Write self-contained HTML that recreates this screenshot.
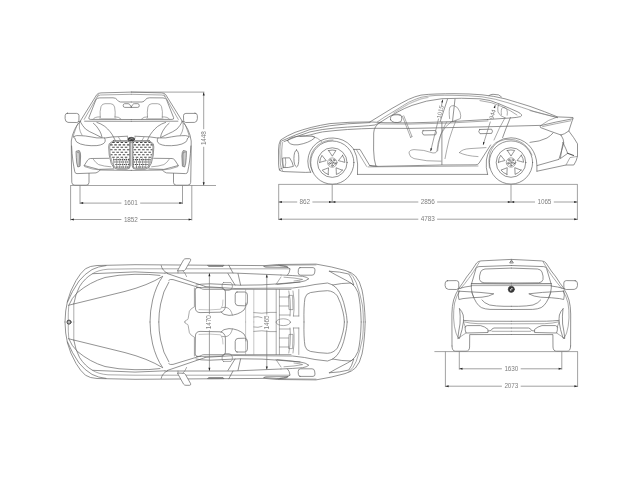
<!DOCTYPE html>
<html><head><meta charset="utf-8"><title>Vehicle dimensions</title>
<style>
html,body{margin:0;padding:0;background:#fff;}
body{width:640px;height:480px;overflow:hidden;font-family:"Liberation Sans",sans-serif;}
svg{display:block;position:absolute;left:0;top:0;}
svg *{vector-effect:none;}
.c{fill:none;stroke:#606060;stroke-width:.68;stroke-linecap:round;stroke-linejoin:round;}
.c .l2{stroke:#727272;stroke-width:.6;}
.c .l3{stroke:#8c8c8c;stroke-width:.5;}
.c .w{fill:#fff;}
.c .dk{fill:#555;stroke:#444;}
.c .g{fill:#cfcfcf;}
.dl{fill:none;stroke:#7a7a7a;stroke-width:.7;}
.gl{fill:none;stroke:#808080;stroke-width:.72;}
.ah{fill:#222;stroke:none;}
.t{filter:grayscale(1);font-family:"Liberation Sans",sans-serif;font-size:6.4px;fill:#808080;text-anchor:middle;letter-spacing:-.1px;}
</style></head>
<body>
<svg width="640" height="480" viewBox="0 0 640 480">
<rect x="0" y="0" width="640" height="480" fill="#fff"/>
<!-- FRONT VIEW -->
<g class="c"><g><path d="M131.25,92.1 L101,92.9 Q98,93 96.8,94.6 L80.6,120.6"/><path class="l2" d="M131.25,94.3 L100.5,95 Q98.6,95.2 97.6,96.6"/><path class="l2" d="M98.4,94.6 L84.2,119.4"/><path d="M131.25,102 L120.5,102 Q118.4,101.8 117,99.6 Q116,97.9 113,97.8 L99.5,97.9 Q97,98 96,99.6 L88.9,117.6 Q88.3,119.4 90.4,119.4 L131.25,119.5"/><path d="M131.25,121.3 L84.6,121.2"/><path d="M131.25,106.9 L129.8,104.6 Q129.2,103.7 128,103.7 L124.6,103.7 Q123.2,103.9 123.2,105.6 Q123.2,107.4 124.8,107.4 L131.25,107.4"/><path class="l2" d="M100.2,117.6 Q99.6,111 101,106.6 Q102,103.7 105,103.7 L110.6,103.7 Q113.8,103.8 114.6,107 Q115.6,112 115,117.4"/><path class="l2" d="M93,119.2 Q94.6,116.6 100.2,116.9 M115,116.8 Q119,116.6 121,119"/><path class="l3" d="M99.6,118.6 L116,118.6"/><path d="M67.4,113.4 L76.6,113.4 Q79,113.5 79,115.6 L78.9,120.4 Q78.9,122.4 76.8,122.5 L68,122.4 Q65.2,122 65.1,118.6 L65.2,115.4 Q65.4,113.2 67.4,113.1 Z"/><path d="M78.9,121.6 L80.8,121.1"/><path d="M80.4,121.4 Q76.6,125 74.6,129.6 Q72,135 71.3,141 L71.4,160 L71.8,182.4 Q72,185.2 74.8,185.2 L86.2,185.2 Q88.9,185.2 89,182.4 L89,173.5"/><path d="M71.6,146 Q72,154 72.9,161 Q73.8,167 74.8,171.8 Q75.2,173.7 77,173.6 L96,172.9 Q98.6,172 100.2,170 L131.25,170.4"/><path class="l2" d="M78,123.4 Q76,127 75,130.8 Q73.6,134 73.3,136.9"/><path d="M80.2,121.6 Q82.6,126 85.5,129 Q89.6,132 94.2,133.8 L101.2,137.3"/><path d="M93.4,123.3 Q96.4,125.6 97.8,128.1 Q100,131 101.2,134.2 L102,137.3"/><path d="M96.9,122.4 Q101,123.6 104.8,126.4 Q108,129 110,131.6 Q112,134 113.5,136.9 L115.2,140.4"/><path class="l2" d="M79.4,122.9 L79.4,128.1 Q80,132 82,135.1"/><path d="M113.5,136.9 L127.6,136.2"/><path d="M73.7,136.9 Q75,135.8 76.8,135.6 Q81,135.6 85.5,136 Q91,136.8 96.9,137.9 L105.6,137.9 L112.6,136.9"/><path d="M75,138.6 Q75.4,140.6 76.8,142.1 Q80,144.4 85.5,145.2 Q91,146 96.9,145.6 Q100.6,145.2 103,143.9 Q104.8,142.8 105.2,141.2 Q105.4,139.4 104.6,138"/><path class="l2" d="M73.7,136.9 Q73.8,138 75,138.6"/><path class="l2" d="M118.6,137.3 L120.6,140.6 M127.4,136.9 L128,139.6"/><path d="M113.4,140.6 L129.2,140.6 Q130.3,140.6 130.3,142 L130.3,165.6 Q130.2,169.2 126.6,169.2 L117.4,169.2 Q113.4,169 111.2,163.4 Q108.5,155 108.7,147 L109.2,143.8 L113.4,140.6 Z"/><path class="l2" d="M113.7,141.5 L128.8,141.5 Q129.5,141.6 129.5,142.6 L129.5,165.4 Q129.4,168.3 126.4,168.3 L117.8,168.3 Q114.2,168 112.2,163 Q109.5,155 109.7,147 L110.1,144.3 L113.7,141.5 Z"/><path d="M108.9,158.3 L90.4,158.5 Q88.6,158.8 87.6,160.2 L84.2,165.5 Q91,167.4 98.6,169.4 L113.6,168.9"/><path class="l2" d="M93.4,159.4 Q95.6,162.8 98.6,164.6 Q104,166.4 110.9,166.8"/><path class="l2" d="M84.2,165.5 L84.6,166.6 Q92,169.6 100.2,170"/><path class="g" d="M76.4,151.2 L79.2,150.5 Q80.6,152 80.6,156 L80.1,166.2 L77.8,167 Q76.5,164 76.3,158 Z"/><path class="l2" d="M77.4,152.4 L78.9,152 Q79.6,154 79.5,157 L79.2,165.2"/></g><g transform="translate(262.5,0) scale(-1,1)"><path d="M131.25,92.1 L101,92.9 Q98,93 96.8,94.6 L80.6,120.6"/><path class="l2" d="M131.25,94.3 L100.5,95 Q98.6,95.2 97.6,96.6"/><path class="l2" d="M98.4,94.6 L84.2,119.4"/><path d="M131.25,102 L120.5,102 Q118.4,101.8 117,99.6 Q116,97.9 113,97.8 L99.5,97.9 Q97,98 96,99.6 L88.9,117.6 Q88.3,119.4 90.4,119.4 L131.25,119.5"/><path d="M131.25,121.3 L84.6,121.2"/><path d="M131.25,106.9 L129.8,104.6 Q129.2,103.7 128,103.7 L124.6,103.7 Q123.2,103.9 123.2,105.6 Q123.2,107.4 124.8,107.4 L131.25,107.4"/><path class="l2" d="M100.2,117.6 Q99.6,111 101,106.6 Q102,103.7 105,103.7 L110.6,103.7 Q113.8,103.8 114.6,107 Q115.6,112 115,117.4"/><path class="l2" d="M93,119.2 Q94.6,116.6 100.2,116.9 M115,116.8 Q119,116.6 121,119"/><path class="l3" d="M99.6,118.6 L116,118.6"/><path d="M67.4,113.4 L76.6,113.4 Q79,113.5 79,115.6 L78.9,120.4 Q78.9,122.4 76.8,122.5 L68,122.4 Q65.2,122 65.1,118.6 L65.2,115.4 Q65.4,113.2 67.4,113.1 Z"/><path d="M78.9,121.6 L80.8,121.1"/><path d="M80.4,121.4 Q76.6,125 74.6,129.6 Q72,135 71.3,141 L71.4,160 L71.8,182.4 Q72,185.2 74.8,185.2 L86.2,185.2 Q88.9,185.2 89,182.4 L89,173.5"/><path d="M71.6,146 Q72,154 72.9,161 Q73.8,167 74.8,171.8 Q75.2,173.7 77,173.6 L96,172.9 Q98.6,172 100.2,170 L131.25,170.4"/><path class="l2" d="M78,123.4 Q76,127 75,130.8 Q73.6,134 73.3,136.9"/><path d="M80.2,121.6 Q82.6,126 85.5,129 Q89.6,132 94.2,133.8 L101.2,137.3"/><path d="M93.4,123.3 Q96.4,125.6 97.8,128.1 Q100,131 101.2,134.2 L102,137.3"/><path d="M96.9,122.4 Q101,123.6 104.8,126.4 Q108,129 110,131.6 Q112,134 113.5,136.9 L115.2,140.4"/><path class="l2" d="M79.4,122.9 L79.4,128.1 Q80,132 82,135.1"/><path d="M113.5,136.9 L127.6,136.2"/><path d="M73.7,136.9 Q75,135.8 76.8,135.6 Q81,135.6 85.5,136 Q91,136.8 96.9,137.9 L105.6,137.9 L112.6,136.9"/><path d="M75,138.6 Q75.4,140.6 76.8,142.1 Q80,144.4 85.5,145.2 Q91,146 96.9,145.6 Q100.6,145.2 103,143.9 Q104.8,142.8 105.2,141.2 Q105.4,139.4 104.6,138"/><path class="l2" d="M73.7,136.9 Q73.8,138 75,138.6"/><path class="l2" d="M118.6,137.3 L120.6,140.6 M127.4,136.9 L128,139.6"/><path d="M113.4,140.6 L129.2,140.6 Q130.3,140.6 130.3,142 L130.3,165.6 Q130.2,169.2 126.6,169.2 L117.4,169.2 Q113.4,169 111.2,163.4 Q108.5,155 108.7,147 L109.2,143.8 L113.4,140.6 Z"/><path class="l2" d="M113.7,141.5 L128.8,141.5 Q129.5,141.6 129.5,142.6 L129.5,165.4 Q129.4,168.3 126.4,168.3 L117.8,168.3 Q114.2,168 112.2,163 Q109.5,155 109.7,147 L110.1,144.3 L113.7,141.5 Z"/><path d="M108.9,158.3 L90.4,158.5 Q88.6,158.8 87.6,160.2 L84.2,165.5 Q91,167.4 98.6,169.4 L113.6,168.9"/><path class="l2" d="M93.4,159.4 Q95.6,162.8 98.6,164.6 Q104,166.4 110.9,166.8"/><path class="l2" d="M84.2,165.5 L84.6,166.6 Q92,169.6 100.2,170"/><path class="g" d="M76.4,151.2 L79.2,150.5 Q80.6,152 80.6,156 L80.1,166.2 L77.8,167 Q76.5,164 76.3,158 Z"/><path class="l2" d="M77.4,152.4 L78.9,152 Q79.6,154 79.5,157 L79.2,165.2"/></g><path d="M112.2,142.4 H114.7 M116.4,142.4 H118.9 M120.6,142.4 H123.1 M124.8,142.4 H127.3 M110.15,144.86 H112.6 M114.3,144.86 H116.8 M118.5,144.86 H121 M122.7,144.86 H125.2 M126.9,144.86 H129.4 M112.2,147.32 H114.7 M116.4,147.32 H118.9 M120.6,147.32 H123.1 M124.8,147.32 H127.3 M110.22,149.78 H112.6 M114.3,149.78 H116.8 M118.5,149.78 H121 M122.7,149.78 H125.2 M126.9,149.78 H129.4 M112.2,152.24 H114.7 M116.4,152.24 H118.9 M120.6,152.24 H123.1 M124.8,152.24 H127.3 M110.68,154.7 H112.6 M114.3,154.7 H116.8 M118.5,154.7 H121 M122.7,154.7 H125.2 M126.9,154.7 H129.4 M112.2,157.16 H114.7 M116.4,157.16 H118.9 M120.6,157.16 H123.1 M124.8,157.16 H127.3 M113.25,159.62 H114.6 M115.35,159.62 H116.7 M117.45,159.62 H118.8 M119.55,159.62 H120.9 M121.65,159.62 H123 M123.75,159.62 H125.1 M125.85,159.62 H127.2 M127.95,159.62 H129.3 M114.3,162.08 H115.65 M116.4,162.08 H117.75 M118.5,162.08 H119.85 M120.6,162.08 H121.95 M122.7,162.08 H124.05 M124.8,162.08 H126.15 M126.9,162.08 H128.25 M115.35,164.54 H116.7 M117.45,164.54 H118.8 M119.55,164.54 H120.9 M121.65,164.54 H123 M123.75,164.54 H125.1 M125.85,164.54 H127.2 M127.95,164.54 H129.3 M116.4,167 H117.75 M118.5,167 H119.85 M120.6,167 H121.95 M122.7,167 H124.05 M124.8,167 H126.15 M126.9,167 H128.2 M133.1,142.4 H134.1 M135.8,142.4 H138.3 M140,142.4 H142.5 M144.2,142.4 H146.7 M148.4,142.4 H150.46 M133.7,144.86 H136.2 M137.9,144.86 H140.4 M142.1,144.86 H144.6 M146.3,144.86 H148.8 M150.5,144.86 H152.45 M133.1,147.32 H134.1 M135.8,147.32 H138.3 M140,147.32 H142.5 M144.2,147.32 H146.7 M148.4,147.32 H150.9 M133.7,149.78 H136.2 M137.9,149.78 H140.4 M142.1,149.78 H144.6 M146.3,149.78 H148.8 M150.5,149.78 H152.38 M133.1,152.24 H134.1 M135.8,152.24 H138.3 M140,152.24 H142.5 M144.2,152.24 H146.7 M148.4,152.24 H150.9 M133.7,154.7 H136.2 M137.9,154.7 H140.4 M142.1,154.7 H144.6 M146.3,154.7 H148.8 M150.5,154.7 H151.92 M133.1,157.16 H134.1 M135.8,157.16 H138.3 M140,157.16 H142.5 M144.2,157.16 H146.7 M148.4,157.16 H150.9 M133.1,159.62 H134 M134.75,159.62 H136.1 M136.85,159.62 H138.2 M138.95,159.62 H140.3 M141.05,159.62 H142.4 M143.15,159.62 H144.5 M145.25,159.62 H146.6 M147.35,159.62 H148.7 M149.45,159.62 H150.5 M133.7,162.08 H135.05 M135.8,162.08 H137.15 M137.9,162.08 H139.25 M140,162.08 H141.35 M142.1,162.08 H143.45 M144.2,162.08 H145.55 M146.3,162.08 H147.65 M148.4,162.08 H149.49 M133.27,164.54 H134 M134.75,164.54 H136.1 M136.85,164.54 H138.2 M138.95,164.54 H140.3 M141.05,164.54 H142.4 M143.15,164.54 H144.5 M145.25,164.54 H146.6 M147.35,164.54 H148.28 M135.8,167 H137.15 M137.9,167 H139.25 M140,167 H141.35 M142.1,167 H143.45 M144.2,167 H145.55" style="stroke:#484848;stroke-width:1.05;stroke-linecap:butt"/><path class="l2" d="M113.6,158.6 V167.8 M116.7,158.6 V167.8 M119.8,158.6 V167.8 M122.9,158.6 V167.8 M126,158.6 V167.8 M129.1,158.6 V167.8 M148.9,158.6 V167.8 M145.8,158.6 V167.8 M142.7,158.6 V167.8 M139.6,158.6 V167.8 M136.5,158.6 V167.8 M133.4,158.6 V167.8"/><ellipse cx="131.25" cy="139.2" rx="3.3" ry="1.9" style="fill:#3a3a3a;stroke:#444"/><path d="M129.4,139.6 Q131,137.9 133.2,138.9" style="stroke:#ddd;stroke-width:.6"/><path class="l2" d="M128.4,141.4 L131.25,142.6 L134.1,141.4"/></g><path class="gl" d="M70.3,185.5 H216"/><path class="dl" d="M70.6,185.5 V220.4 M80,185.5 V204 M182.5,185.5 V204 M191.8,185.5 V220.4"/><path class="dl" d="M80,203.1 H121.4 M140.2,203.1 H182.5"/><polygon class="ah" points="80,203.1 83.2,202.1 83.2,204.1"/><polygon class="ah" points="182.5,203.1 179.3,202.1 179.3,204.1"/><text class="t" x="130.8" y="205.3">1601</text><path class="dl" d="M70.6,219.5 H121.4 M140.2,219.5 H191.8"/><polygon class="ah" points="70.6,219.5 73.8,218.5 73.8,220.5"/><polygon class="ah" points="191.8,219.5 188.6,218.5 188.6,220.5"/><text class="t" x="130.8" y="221.7">1852</text><path class="dl" d="M131,92.1 H204.4 M203.7,92.4 V129.2 M203.7,146.8 V185"/><polygon class="ah" points="203.7,92.2 202.7,95.4 204.7,95.4"/><polygon class="ah" points="203.7,185.4 202.7,182.2 204.7,182.2"/><text class="t" transform="translate(205.8,138.2) rotate(-90)">1448</text>
<!-- SIDE VIEW -->
<g class="c"><path d="M279.6,170.2 Q278.6,168 278.6,164 L278.5,150 Q278.6,143.6 280.6,140 Q287,135.6 295,132.4 Q310,126.8 330,123.6 Q350,121.8 370,121.9 L392,108.4 Q402,102.6 408.5,99.4 Q415,96.4 421,95.1 Q428,94.2 436,94 Q446,93.7 454,93.7 Q470,93.7 482,94.8 Q494,96 505,98.8 Q518,102.6 530,106.4 Q545,111.6 557.5,116.9 L573,117.5 Q573.6,118.4 572.4,120 L568.8,131 Q574,137.6 577.5,143.8 L577.5,156.2 Q576.6,161 573.8,165 L566,165 L537,171.2"/><path d="M281.6,141 Q296,134.4 310,129.5 Q330,125 347.5,123.8 L370,122.6"/><path d="M284,141.6 Q297,136 310,131.9 Q322,129.2 335,128 Q348,127 360,126.3 Q370,125.7 375,125 L380,122.6"/><path class="l2" d="M280.8,141.6 Q279.8,146 279.9,152 L280.4,164 Q280.8,168 282.4,170.4"/><path class="l2" d="M282.4,142.6 Q281.4,150 281.8,158 Q282.2,164 283.4,167.4"/><path d="M287.6,140.6 Q290,136.6 300,136.2 L312,136.2 Q315.4,136.4 314.6,138 Q309,143 298,144.8 Q289,145.6 287.6,140.6 Z"/><path class="l2" d="M312,136.2 Q318,137.6 321.6,141.4"/><path d="M283,158 L289.6,157.8 Q292.6,162 293.4,166.4 Q288,168 283.6,167.6 Z"/><path class="l2" d="M285.4,158 Q286.4,163 285,167.6"/><path d="M296.4,150 Q298.8,150.4 298.8,158 Q298.8,166.4 296.6,167 Q294,166 293.9,158.6 Q294,151 296.4,150 Z"/><path d="M279.6,170.2 Q281,171.4 284,171.6 L300,172.2 Q306,172.6 310.6,172.2"/><path class="l2" d="M279.2,169.4 L283.6,167.6"/><path d="M310.6,172.4 Q307.6,167 307.8,161 Q308.4,150 316.4,143.4 Q323.6,137.8 333,138 Q344,138.4 351,146 Q353.4,148.8 354,149.6"/><path class="l2" d="M312.6,172 Q309.8,166 310,161 Q310.6,151.4 317.6,145.2 Q324.4,139.8 333,140"/><path d="M353.8,149.4 L360,149.4 L369.6,165.4 L377,166.2"/><path d="M353.8,149.4 Q357.4,156 357.6,164 L357.5,174.4"/><path class="l2" d="M356.4,149.6 L366.6,166.4"/><path d="M357.5,174.4 H487.6"/><path d="M369.6,165.6 Q372,166.6 377,166.4 L441,165 L476,164.8 Q478,164.6 479,163.2 L490.6,145"/><path class="l2" d="M368,166.9 L478,166"/><path d="M380,122.6 Q374,126 373.7,133 L373.6,150 Q373.8,160 375.8,165.8"/><path d="M370,121.9 L385,122.7 L410,122.9 L450,121.7 L487.5,119.5"/><path class="l2" d="M380,124 L410,124.1 L450,123 L488,120.9"/><path d="M380,122.5 Q398,110.6 412,105.4 Q426,100.2 442,98.7 Q462,97.8 480,98.8 Q491,99.8 499,103.8 Q510,108.4 518,112 Q523.6,115 520.6,116.6 Q517,117.6 510,118 L487.5,119.5"/><path class="l2" d="M377.4,121.9 L384,117.4 L396,110 Q403,105.6 408.5,102.3 Q415,99.2 421,97.3 Q428,95.9 436,95.4 Q445,95.2 452,95.3 Q470,95.5 482,96.8 Q496,98.8 508,102.8 Q522,107.4 534,111.4 L557.5,117.6"/><path d="M394,112.8 Q402,107.8 408.5,104 Q415,101 421,98.8 L428,97.4" style="stroke:#c4c4c4;stroke-width:1.3"/><path class="l2" d="M480,100.6 Q492,101.8 502,106.6 Q511,110.6 517,115"/><path d="M489,95.5 Q491,94.3 493,94.3 L498.6,94.9 L501.4,96.9"/><path class="l2" d="M530,110.6 Q545,114.6 557.5,117.6"/><path d="M447.5,99.2 L440.2,121.6 M455,99.2 L452.5,121.4"/><path d="M441.9,122 L441.9,164.6"/><path d="M510.4,117.6 Q506,128 502.6,137.6"/><path class="l2" d="M498.8,103.9 Q497,108 498,112 Q500,116.6 505,117.8"/><path class="l2" d="M501.4,114.8 Q500.6,109 502.6,107.6 Q505.6,106.8 506.8,109.4 Q507.8,112 507.2,115.2"/><path d="M390.6,119.8 Q389.6,116 393.6,114.9 Q398.6,114.2 401.4,115.8 Q402.4,119 401,121.6 Q398,123 394.6,122.4 Q391.4,122 390.6,119.8 Z"/><path class="l2" d="M392,115.4 Q396,112.8 400.4,114.6"/><path class="l2" d="M402.4,116.2 L410.6,137.4 M403.8,115.8 L412,136.6 M410.6,137.4 L412,136.6"/><path d="M300,136.3 Q306,135.8 310,135 Q316,133.2 322.5,131.9 Q335,130.4 347.5,129.5 Q362,128.6 375,128.3 L410,128.4 L450,127.6 L490,126.7 L540,125.4"/><path d="M423,130.7 L435.6,130.5 Q437.4,132.6 435.6,134.8 L423.6,135 Q421,133 423,130.7 Z"/><path d="M479.6,129.5 L491.6,129.2 Q493.4,131.2 491.6,133.4 L480,133.7 Q477.6,131.8 479.6,129.5 Z"/><path class="l2" d="M449.6,118.6 Q448.6,110 450,107 Q451.4,105.4 454,105.6 Q458,106.6 460,112 Q461.2,116 460.4,118.6 Q455,120.6 451,122"/><path class="l2" d="M451,122 Q445,126 441,134 Q437.6,142 437,150.6 Q436.4,153.6 433,153 Q424,149.6 414,149.6 Q409,150 409,153 Q409.6,157.4 414,158.6 Q426,161.6 441,161.2"/><path class="l2" d="M456,120.4 Q452,130 449,140 Q446.6,150 445,158.6"/><path class="l2" d="M446.6,122 Q443,128 440.4,136 Q438,145 437.6,151"/><path class="l2" d="M505,117.8 Q499,128 494,140 M459.4,152.6 Q462,149 470,148.6 L486,147.6 M459.4,152.6 Q466,156 478,156.6"/><path d="M487.6,174.4 Q485.6,168 486.4,160 Q488,149 496,142.6 Q503,137.6 511,137.8 Q521,138 528.6,145 Q534.6,151 536.4,160 Q537.2,165 536.9,171.2"/><path class="l2" d="M489.4,168 Q488,160 490,153 Q493,145 499,141.4 Q505,138.6 511,139.4 Q520,140 526,146 Q530,150 532,155"/><path d="M530,142.4 Q540,141.6 547,138 Q551,135.6 553,133"/><path d="M537,165.6 L558.8,159.4"/><path d="M561,135 Q564,139.6 563.8,143 Q562,150 559,159 M568.8,131 Q564,134.6 561,135"/><path d="M563,142.6 Q566.6,150 567.6,153.4 Q564,156 560.4,158.6 Q561.4,150 563,142.6 Z"/><path d="M567.6,153.2 L573.6,155.4" style="stroke-width:1.1;stroke:#555"/><path class="l2" d="M566,165 L570,157.6 L577.4,156.4"/><path d="M540.6,125.6 Q555,122 572.6,118.8 M540.6,125.6 Q539.6,126.6 540.6,127.6 Q551,131.6 561,135"/><path class="l2" d="M542.6,126.6 Q556,123.6 570.6,120.8 M557.5,116.9 Q548,119.6 540.6,125.6"/><circle cx="332.3" cy="162.6" r="21.6"/><circle cx="332.3" cy="162.6" r="14.8"/><circle cx="332.3" cy="162.6" r="4.7" class="l2"/><circle cx="332.3" cy="162.6" r="1.0"/><circle cx="334" cy="160.25" r="0.9"/><circle cx="335.06" cy="163.5" r="0.9"/><circle cx="332.3" cy="165.5" r="0.9"/><circle cx="329.54" cy="163.5" r="0.9"/><circle cx="330.6" cy="160.25" r="0.9"/><path d="M328.62,150.55 Q332.3,149.5 335.98,150.55 Q334.11,153.27 332.3,156.2 Q330.49,153.27 328.62,150.55 Z"/><path d="M342.62,155.37 Q344.76,158.55 344.9,162.38 Q341.73,161.44 338.39,160.62 Q340.61,157.99 342.62,155.37 Z"/><path d="M342.36,170.18 Q340,173.2 336.4,174.51 Q336.31,171.21 336.06,167.78 Q339.25,169.08 342.36,170.18 Z"/><path d="M328.2,174.51 Q324.6,173.2 322.24,170.18 Q325.35,169.08 328.54,167.78 Q328.29,171.21 328.2,174.51 Z"/><path d="M319.7,162.38 Q319.84,158.55 321.98,155.37 Q323.99,157.99 326.21,160.62 Q322.87,161.44 319.7,162.38 Z"/><circle cx="511" cy="162.5" r="21.6"/><circle cx="511" cy="162.5" r="14.8"/><circle cx="511" cy="162.5" r="4.7" class="l2"/><circle cx="511" cy="162.5" r="1.0"/><circle cx="512.7" cy="160.15" r="0.9"/><circle cx="513.76" cy="163.4" r="0.9"/><circle cx="511" cy="165.4" r="0.9"/><circle cx="508.24" cy="163.4" r="0.9"/><circle cx="509.3" cy="160.15" r="0.9"/><path d="M507.32,150.45 Q511,149.4 514.68,150.45 Q512.81,153.17 511,156.1 Q509.19,153.17 507.32,150.45 Z"/><path d="M521.32,155.27 Q523.46,158.45 523.6,162.28 Q520.43,161.34 517.09,160.52 Q519.31,157.89 521.32,155.27 Z"/><path d="M521.06,170.08 Q518.7,173.1 515.1,174.41 Q515.01,171.11 514.76,167.68 Q517.95,168.98 521.06,170.08 Z"/><path d="M506.9,174.41 Q503.3,173.1 500.94,170.08 Q504.05,168.98 507.24,167.68 Q506.99,171.11 506.9,174.41 Z"/><path d="M498.4,162.28 Q498.54,158.45 500.68,155.27 Q502.69,157.89 504.91,160.52 Q501.57,161.34 498.4,162.28 Z"/></g><path class="gl" d="M278.4,184.4 H577.6"/><path class="dl" d="M278.7,184.4 V220 M332.2,184.4 V203 M511,184.4 V203 M577.4,184.4 V220"/><path class="dl" d="M278.7,202 H297.2 M312.4,202 H332.2"/><polygon class="ah" points="278.7,202 281.9,201 281.9,203"/><polygon class="ah" points="332.2,202 329,201 329,203"/><text class="t" x="304.8" y="204.2">862</text><path class="dl" d="M332.2,202 H418.3 M437.1,202 H511"/><polygon class="ah" points="332.2,202 335.4,201 335.4,203"/><polygon class="ah" points="511,202 507.8,201 507.8,203"/><text class="t" x="427.7" y="204.2">2856</text><path class="dl" d="M511,202 H535 M553.8,202 H577.4"/><polygon class="ah" points="511,202 514.2,201 514.2,203"/><polygon class="ah" points="577.4,202 574.2,201 574.2,203"/><text class="t" x="544.4" y="204.2">1065</text><path class="dl" d="M278.7,219.2 H418.3 M437.1,219.2 H577.4"/><polygon class="ah" points="278.7,219.2 281.9,218.2 281.9,220.2"/><polygon class="ah" points="577.4,219.2 574.2,218.2 574.2,220.2"/><text class="t" x="427.7" y="221.4">4783</text><path class="dl" d="M442.7,99.6 L441.4,106 M438.6,118.6 L430.7,151"/><polygon class="ah" points="442.8,99.4 442.9,102.6 441.2,102.2"/><polygon class="ah" points="430.6,151.4 430.5,148.2 432.2,148.6"/><text class="t" style="font-size:6.2px" transform="translate(442.2,112.4) rotate(-77)">1015</text><path class="dl" d="M495.2,105.2 L494.4,108 M490.4,121.6 L483.2,144.6"/><polygon class="ah" points="495.3,105 495.2,108.2 493.6,107.7"/><polygon class="ah" points="483,145.2 483.1,142 484.7,142.5"/><text class="t" style="font-size:6.2px" transform="translate(494.6,115) rotate(-73)">944</text>
<!-- TOP VIEW -->
<g class="c"><g><path d="M65,322 L65.7,311 L67.5,301 Q70,291 76,280.6 Q80.4,273 85.4,268.8 Q90,265.8 97,265.5 L135,264.7 L205,265.2 L265,265.6 L277.5,264.5 L316,264.1 Q332,266.6 345,270.4 Q352,272.4 355.4,276 Q360,281 362,290 Q364.6,302 365.2,322"/><path class="l2" d="M68.2,322 Q68.1,312 68.8,305.4 M73.8,322 L73.8,303.8"/><path d="M67.5,302 Q72,291 79,281 Q85,273.6 92,269.6 Q98,266.4 106,265.6"/><path d="M73.8,303.8 Q75.4,294 79.6,286.4 Q85,278 92.5,273.7 L135,271.9 L165,273.2"/><path d="M68.8,305.2 Q71.6,298 77.5,292.5 Q90,282 105,277.5 Q118,274.6 135,274.3 Q150,274 160,275.4"/><path class="l2" d="M92.5,273.7 Q98,270 108,269.2 L135,268.8 L290,268.8"/><path d="M68.8,305.2 L125,291.4 Q148,285.4 162.5,276.4"/><path d="M165,273 L233,273 L281,275"/><path class="w" d="M177.6,270.6 L183.6,259.8 Q184.4,258.7 186,258.7 L189.6,258.7 Q191.2,258.9 190.6,260.4 L185.4,269.6 Q184.8,270.6 183.6,270.7 Z"/><path class="l2" d="M178,270.8 L178,273 M183,270.8 Q185,272.6 186.6,276.6"/><path d="M162.5,276.6 Q156,286 152.6,300 Q150,311 150,322"/><path d="M168.8,282.2 Q163,291 160.6,304 Q158.8,313 158.8,322"/><path d="M161.2,265.6 Q162,270.6 167.5,273.2 M167.5,273.6 L205,286.4 M168.8,280.2 Q170,279 173,279.6 L200.6,288"/><path d="M196,285 Q200,283.9 210,283.8 L240,285.2 L262,284.9 Q285,283.4 300,282"/><path d="M205,286.6 L235,288.5 L292.5,288 Q305,286.8 315,284.5 L327.5,283 Q333,284 337,288.6 Q342.6,296 345,308 Q347,316 347.2,322"/><path class="l2" d="M200.6,288 Q201,289.4 204,289.5 L291,289.5"/><path d="M208,265.4 L224,265.4 L223,266.5 L209,266.5 Z"/><path d="M264,266.3 L278,265.4 L286,266 L288,267.4 L266,267.2 Z"/><path class="l2" d="M277.5,265.3 L316,264.9"/><path d="M228.8,265.2 L233,273 M228,273.6 L235,285 M238,273.6 L240.6,285"/><path d="M280,265.6 Q288,266.4 290,269 Q289.6,273 287.4,275.2"/><path d="M281,275 Q293,275.4 302.5,276.3 Q307,277 308.8,278.8 Q306,281.2 300,282 Q288,283.4 277,284.4"/><path class="l2" d="M281,277 L276,284.4 M284,277.2 Q295,277.8 302.6,279.4 Q299,280.6 294,281"/><path d="M300,267.6 L313,267.6 Q315.2,267.8 315,270 L314.6,273 Q314.2,275.2 312,275.2 L300.6,275.2 Q298,275 298.2,272.4 L298.4,269.6 Q298.6,267.6 300,267.6 Z"/><path d="M304,322 Q303.6,306 305,298 Q306,293.6 310.4,292.6 Q319,291 327.5,290.7 Q333.6,291 337.4,296 Q341,303 343,312 Q344.2,317 344.4,322"/><path d="M332.5,285 Q342,283 351,283 Q355.6,286 358,292.6 Q360.6,302 361.2,322"/><path class="l2" d="M348.8,272 Q353.6,276 356.2,282.6 Q360.4,294 362.6,306 Q363.4,314 363.4,322"/><path d="M329.4,271.2 Q340,271.6 348.8,274 Q352,278 353.8,285 Q348,281 341,277.6 Q335,274.6 329.4,271.2 Z"/><path class="l2" d="M194.4,288 L194.4,306.8 Q190.4,308.8 189.4,311.2 L188.2,318.4 Q188,319.8 186.4,320.2 Q184.7,320.6 184.7,322"/><path d="M197,287.6 L221,288 Q225.4,288.4 225.4,292 L225.4,306 Q225,311.6 220,312.2 L200,312.6 Q195.6,312.4 195.4,308 L195.2,290 Q195.4,287.6 197,287.6 Z"/><path class="l3" d="M199,309.6 Q210,310.4 220.6,309.2 Q223.4,306 223,300"/><path class="l2" d="M223.4,282.6 L231,282.6 Q232.8,284 232.4,287 Q231.8,290 229,290.4 L224.6,290.4 Q222,289 222,286 Q222,283.4 223.4,282.6 Z"/><path d="M221,312.2 Q223,315 229,315.4 Q238,315.2 244,310 Q246.4,307 246,303"/><path class="l2" d="M222,307.6 Q224.6,307 227,307.6 Q231,309 232.4,315"/><path d="M237,292 L245,292 Q247.4,292.4 247.4,295 L247.4,303 Q247.2,305.6 244.6,305.8 L238,305.6 Q235.4,305.4 235.2,302.6 L235.2,294.6 Q235.2,292 237,292 Z"/><path class="l3" d="M245.6,289.5 V322 M253.8,289.5 V322"/><path class="l2" d="M276.2,289.5 V322 M279.4,289.5 V322 M298.8,289.5 L298.8,316"/><path class="l2" d="M253.8,312.6 Q262,314 270,312.4 L276.2,312.4 M253.8,317 Q258,316 262,317.6"/><path class="l2" d="M279.4,297 H288.6 M279.4,306 H288.6 M279.4,315 H290"/><path class="l2" d="M288.8,291 Q290.6,300 290.4,309 L290,316 M293,291 Q294.6,300 294,310 L293.4,316"/><path class="l2" d="M289,295.4 L292.6,295.4 L293,309.6 L289.4,309.6 Z"/><path class="l2" d="M298.8,316 L293.4,316"/></g><g transform="translate(0,644) scale(1,-1)"><path d="M65,322 L65.7,311 L67.5,301 Q70,291 76,280.6 Q80.4,273 85.4,268.8 Q90,265.8 97,265.5 L135,264.7 L205,265.2 L265,265.6 L277.5,264.5 L316,264.1 Q332,266.6 345,270.4 Q352,272.4 355.4,276 Q360,281 362,290 Q364.6,302 365.2,322"/><path class="l2" d="M68.2,322 Q68.1,312 68.8,305.4 M73.8,322 L73.8,303.8"/><path d="M67.5,302 Q72,291 79,281 Q85,273.6 92,269.6 Q98,266.4 106,265.6"/><path d="M73.8,303.8 Q75.4,294 79.6,286.4 Q85,278 92.5,273.7 L135,271.9 L165,273.2"/><path d="M68.8,305.2 Q71.6,298 77.5,292.5 Q90,282 105,277.5 Q118,274.6 135,274.3 Q150,274 160,275.4"/><path class="l2" d="M92.5,273.7 Q98,270 108,269.2 L135,268.8 L290,268.8"/><path d="M68.8,305.2 L125,291.4 Q148,285.4 162.5,276.4"/><path d="M165,273 L233,273 L281,275"/><path class="w" d="M177.6,270.6 L183.6,259.8 Q184.4,258.7 186,258.7 L189.6,258.7 Q191.2,258.9 190.6,260.4 L185.4,269.6 Q184.8,270.6 183.6,270.7 Z"/><path class="l2" d="M178,270.8 L178,273 M183,270.8 Q185,272.6 186.6,276.6"/><path d="M162.5,276.6 Q156,286 152.6,300 Q150,311 150,322"/><path d="M168.8,282.2 Q163,291 160.6,304 Q158.8,313 158.8,322"/><path d="M161.2,265.6 Q162,270.6 167.5,273.2 M167.5,273.6 L205,286.4 M168.8,280.2 Q170,279 173,279.6 L200.6,288"/><path d="M196,285 Q200,283.9 210,283.8 L240,285.2 L262,284.9 Q285,283.4 300,282"/><path d="M205,286.6 L235,288.5 L292.5,288 Q305,286.8 315,284.5 L327.5,283 Q333,284 337,288.6 Q342.6,296 345,308 Q347,316 347.2,322"/><path class="l2" d="M200.6,288 Q201,289.4 204,289.5 L291,289.5"/><path d="M208,265.4 L224,265.4 L223,266.5 L209,266.5 Z"/><path d="M264,266.3 L278,265.4 L286,266 L288,267.4 L266,267.2 Z"/><path class="l2" d="M277.5,265.3 L316,264.9"/><path d="M228.8,265.2 L233,273 M228,273.6 L235,285 M238,273.6 L240.6,285"/><path d="M280,265.6 Q288,266.4 290,269 Q289.6,273 287.4,275.2"/><path d="M281,275 Q293,275.4 302.5,276.3 Q307,277 308.8,278.8 Q306,281.2 300,282 Q288,283.4 277,284.4"/><path class="l2" d="M281,277 L276,284.4 M284,277.2 Q295,277.8 302.6,279.4 Q299,280.6 294,281"/><path d="M300,267.6 L313,267.6 Q315.2,267.8 315,270 L314.6,273 Q314.2,275.2 312,275.2 L300.6,275.2 Q298,275 298.2,272.4 L298.4,269.6 Q298.6,267.6 300,267.6 Z"/><path d="M304,322 Q303.6,306 305,298 Q306,293.6 310.4,292.6 Q319,291 327.5,290.7 Q333.6,291 337.4,296 Q341,303 343,312 Q344.2,317 344.4,322"/><path d="M332.5,285 Q342,283 351,283 Q355.6,286 358,292.6 Q360.6,302 361.2,322"/><path class="l2" d="M348.8,272 Q353.6,276 356.2,282.6 Q360.4,294 362.6,306 Q363.4,314 363.4,322"/><path d="M329.4,271.2 Q340,271.6 348.8,274 Q352,278 353.8,285 Q348,281 341,277.6 Q335,274.6 329.4,271.2 Z"/><path class="l2" d="M194.4,288 L194.4,306.8 Q190.4,308.8 189.4,311.2 L188.2,318.4 Q188,319.8 186.4,320.2 Q184.7,320.6 184.7,322"/><path d="M197,287.6 L221,288 Q225.4,288.4 225.4,292 L225.4,306 Q225,311.6 220,312.2 L200,312.6 Q195.6,312.4 195.4,308 L195.2,290 Q195.4,287.6 197,287.6 Z"/><path class="l3" d="M199,309.6 Q210,310.4 220.6,309.2 Q223.4,306 223,300"/><path class="l2" d="M223.4,282.6 L231,282.6 Q232.8,284 232.4,287 Q231.8,290 229,290.4 L224.6,290.4 Q222,289 222,286 Q222,283.4 223.4,282.6 Z"/><path d="M221,312.2 Q223,315 229,315.4 Q238,315.2 244,310 Q246.4,307 246,303"/><path class="l2" d="M222,307.6 Q224.6,307 227,307.6 Q231,309 232.4,315"/><path d="M237,292 L245,292 Q247.4,292.4 247.4,295 L247.4,303 Q247.2,305.6 244.6,305.8 L238,305.6 Q235.4,305.4 235.2,302.6 L235.2,294.6 Q235.2,292 237,292 Z"/><path class="l3" d="M245.6,289.5 V322 M253.8,289.5 V322"/><path class="l2" d="M276.2,289.5 V322 M279.4,289.5 V322 M298.8,289.5 L298.8,316"/><path class="l2" d="M253.8,312.6 Q262,314 270,312.4 L276.2,312.4 M253.8,317 Q258,316 262,317.6"/><path class="l2" d="M279.4,297 H288.6 M279.4,306 H288.6 M279.4,315 H290"/><path class="l2" d="M288.8,291 Q290.6,300 290.4,309 L290,316 M293,291 Q294.6,300 294,310 L293.4,316"/><path class="l2" d="M289,295.4 L292.6,295.4 L293,309.6 L289.4,309.6 Z"/><path class="l2" d="M298.8,316 L293.4,316"/></g><circle cx="69" cy="322.1" r="2" style="fill:#999;stroke:#333;stroke-width:1"/><path d="M67.6,322.1 H70.4 M69,320.7 V323.5" style="stroke:#eee;stroke-width:.4"/><ellipse class="l2" cx="283.3" cy="322.2" rx="7.2" ry="3.4"/></g><path class="dl" d="M209.4,273.4 V314.2 M209.4,330.4 V370.6 M266.8,274.8 V314.6 M266.8,330.4 V369.2"/><polygon class="ah" points="209.4,273 208.4,276.2 210.4,276.2"/><polygon class="ah" points="209.4,371 208.4,367.8 210.4,367.8"/><polygon class="ah" points="266.8,274.4 265.8,277.6 267.8,277.6"/><polygon class="ah" points="266.8,369.6 265.8,366.4 267.8,366.4"/><text class="t" style="font-size:6.4px" transform="translate(211,322.3) rotate(-90)">1470</text><text class="t" style="font-size:6.4px" transform="translate(268.5,322.5) rotate(-90)">1465</text>
<!-- REAR VIEW -->
<g class="c"><g><path d="M511.3,259.4 L481,260.9 Q478,261.2 476.6,263 Q471,272 466.6,277 Q462.6,283.6 458.8,288.4"/><path class="l2" d="M479.4,262 Q473,273 468.6,278.6 Q465,283.6 460.6,288.6"/><path d="M511.3,265.5 L479,266.6 Q476.4,266.8 476,268.6 L471.6,283.6"/><path d="M511.3,268.1 L485,269 Q481.6,269.4 480.6,272 Q479,276.4 479.6,279.6 Q480.4,282.6 484,282.8 L511.3,283"/><path d="M511.3,283.9 L471.4,283.7" style="stroke-width:.9"/><path class="l2" d="M511.3,285.6 L471.2,285.6"/><path d="M447.4,280.7 L456.4,280.6 Q458.8,280.8 458.8,283 L458.7,287.4 Q458.6,289.4 456.4,289.5 L448.4,289.4 Q445.2,289 445.1,285.6 L445.2,283 Q445.4,280.8 447.4,280.7 Z"/><path d="M458.8,288.6 Q455.4,294 453.6,300 Q452,306 451.9,314 L452,346"/><path class="l2" d="M459.4,291 Q456,297 454.6,303 Q453.4,310 453.6,318 Q454,327 456,333 Q457.4,337.6 459.4,338.6"/><path d="M458.8,288.6 Q465,286.6 471.4,286"/><path d="M458.9,291.2 L480,292.4 L493.8,293.8 Q489,296.6 482,297.2 Q470,297.6 463,298.6 L458.9,299.5 Q457.6,295 458.9,291.2 Z"/><path class="l2" d="M471.8,292 Q472.4,295 474,297.6"/><path d="M471.3,283.8 Q471,288 472,292.6 Q473.4,298 476.4,302.6 Q478.6,306 481.4,307.6 Q485,309.2 490,309.4 L511.3,309.5"/><path d="M481.9,300 Q484,303 489.6,305 Q496,306.2 504,306.3 L511.3,306.3"/><path d="M463.8,320.4 Q470,321 476,321.2 L511.3,321.3"/><path class="l2" d="M463.8,321.8 Q470,323.4 478,323.7 L511.3,323.8"/><path d="M465.2,326.9 Q465.8,325.7 467.2,325.6 L480.6,325.6 Q485,326.6 488,329.4 L488,332.5 L466,333 Q464.8,330 465.2,326.9 Z"/><path d="M488,331 L491,330.6 Q492,328.2 494,328 L511.3,328"/><path class="l2" d="M492,331.3 L511.3,331.3"/><path d="M470,334.6 L511.3,334.5"/><path d="M459.6,308.8 Q462,311 463.2,315 Q463.8,319 463.4,322 Q462.6,329 459.6,338 L457.8,338.4 Q458.6,331 460,324 Q460.6,316 459.6,308.8 Z"/><path class="l2" d="M463.6,322.4 L465,326 M458,338.4 Q460,337 466,333"/><path d="M452,346 Q452,351.2 455.4,351.2 L466,351.2 Q469.4,351.2 469.6,347 L469.7,335"/></g><g transform="translate(1022.6,0) scale(-1,1)"><path d="M511.3,259.4 L481,260.9 Q478,261.2 476.6,263 Q471,272 466.6,277 Q462.6,283.6 458.8,288.4"/><path class="l2" d="M479.4,262 Q473,273 468.6,278.6 Q465,283.6 460.6,288.6"/><path d="M511.3,265.5 L479,266.6 Q476.4,266.8 476,268.6 L471.6,283.6"/><path d="M511.3,268.1 L485,269 Q481.6,269.4 480.6,272 Q479,276.4 479.6,279.6 Q480.4,282.6 484,282.8 L511.3,283"/><path d="M511.3,283.9 L471.4,283.7" style="stroke-width:.9"/><path class="l2" d="M511.3,285.6 L471.2,285.6"/><path d="M447.4,280.7 L456.4,280.6 Q458.8,280.8 458.8,283 L458.7,287.4 Q458.6,289.4 456.4,289.5 L448.4,289.4 Q445.2,289 445.1,285.6 L445.2,283 Q445.4,280.8 447.4,280.7 Z"/><path d="M458.8,288.6 Q455.4,294 453.6,300 Q452,306 451.9,314 L452,346"/><path class="l2" d="M459.4,291 Q456,297 454.6,303 Q453.4,310 453.6,318 Q454,327 456,333 Q457.4,337.6 459.4,338.6"/><path d="M458.8,288.6 Q465,286.6 471.4,286"/><path d="M458.9,291.2 L480,292.4 L493.8,293.8 Q489,296.6 482,297.2 Q470,297.6 463,298.6 L458.9,299.5 Q457.6,295 458.9,291.2 Z"/><path class="l2" d="M471.8,292 Q472.4,295 474,297.6"/><path d="M471.3,283.8 Q471,288 472,292.6 Q473.4,298 476.4,302.6 Q478.6,306 481.4,307.6 Q485,309.2 490,309.4 L511.3,309.5"/><path d="M481.9,300 Q484,303 489.6,305 Q496,306.2 504,306.3 L511.3,306.3"/><path d="M463.8,320.4 Q470,321 476,321.2 L511.3,321.3"/><path class="l2" d="M463.8,321.8 Q470,323.4 478,323.7 L511.3,323.8"/><path d="M465.2,326.9 Q465.8,325.7 467.2,325.6 L480.6,325.6 Q485,326.6 488,329.4 L488,332.5 L466,333 Q464.8,330 465.2,326.9 Z"/><path d="M488,331 L491,330.6 Q492,328.2 494,328 L511.3,328"/><path class="l2" d="M492,331.3 L511.3,331.3"/><path d="M470,334.6 L511.3,334.5"/><path d="M459.6,308.8 Q462,311 463.2,315 Q463.8,319 463.4,322 Q462.6,329 459.6,338 L457.8,338.4 Q458.6,331 460,324 Q460.6,316 459.6,308.8 Z"/><path class="l2" d="M463.6,322.4 L465,326 M458,338.4 Q460,337 466,333"/><path d="M452,346 Q452,351.2 455.4,351.2 L466,351.2 Q469.4,351.2 469.6,347 L469.7,335"/></g><path d="M511.3,260.4 L509.6,263 L513,263 Z M510.4,261.8 H512.2"/><circle cx="511.3" cy="289.3" r="3.1" style="fill:#333;stroke:#444"/><path d="M511.3,287.8 A1.5,1.5 0 0 1 512.8,289.3 L511.3,289.3 Z M511.3,290.8 A1.5,1.5 0 0 1 509.8,289.3 L511.3,289.3 Z" style="fill:#eee;stroke:none"/></g><path class="gl" d="M434.4,351.6 H577.8"/><path class="dl" d="M445.4,351.6 V387 M459.3,351.6 V369.6 M561.8,351.6 V369.6 M577.6,351.6 V387"/><path class="dl" d="M459.3,368.8 H501.9 M520.7,368.8 H561.8"/><polygon class="ah" points="459.3,368.8 462.5,367.8 462.5,369.8"/><polygon class="ah" points="561.8,368.8 558.6,367.8 558.6,369.8"/><text class="t" x="511.3" y="371">1630</text><path class="dl" d="M445.4,386.2 H501.9 M520.7,386.2 H577.6"/><polygon class="ah" points="445.4,386.2 448.6,385.2 448.6,387.2"/><polygon class="ah" points="577.6,386.2 574.4,385.2 574.4,387.2"/><text class="t" x="511.3" y="388.4">2073</text>
</svg>
</body></html>
